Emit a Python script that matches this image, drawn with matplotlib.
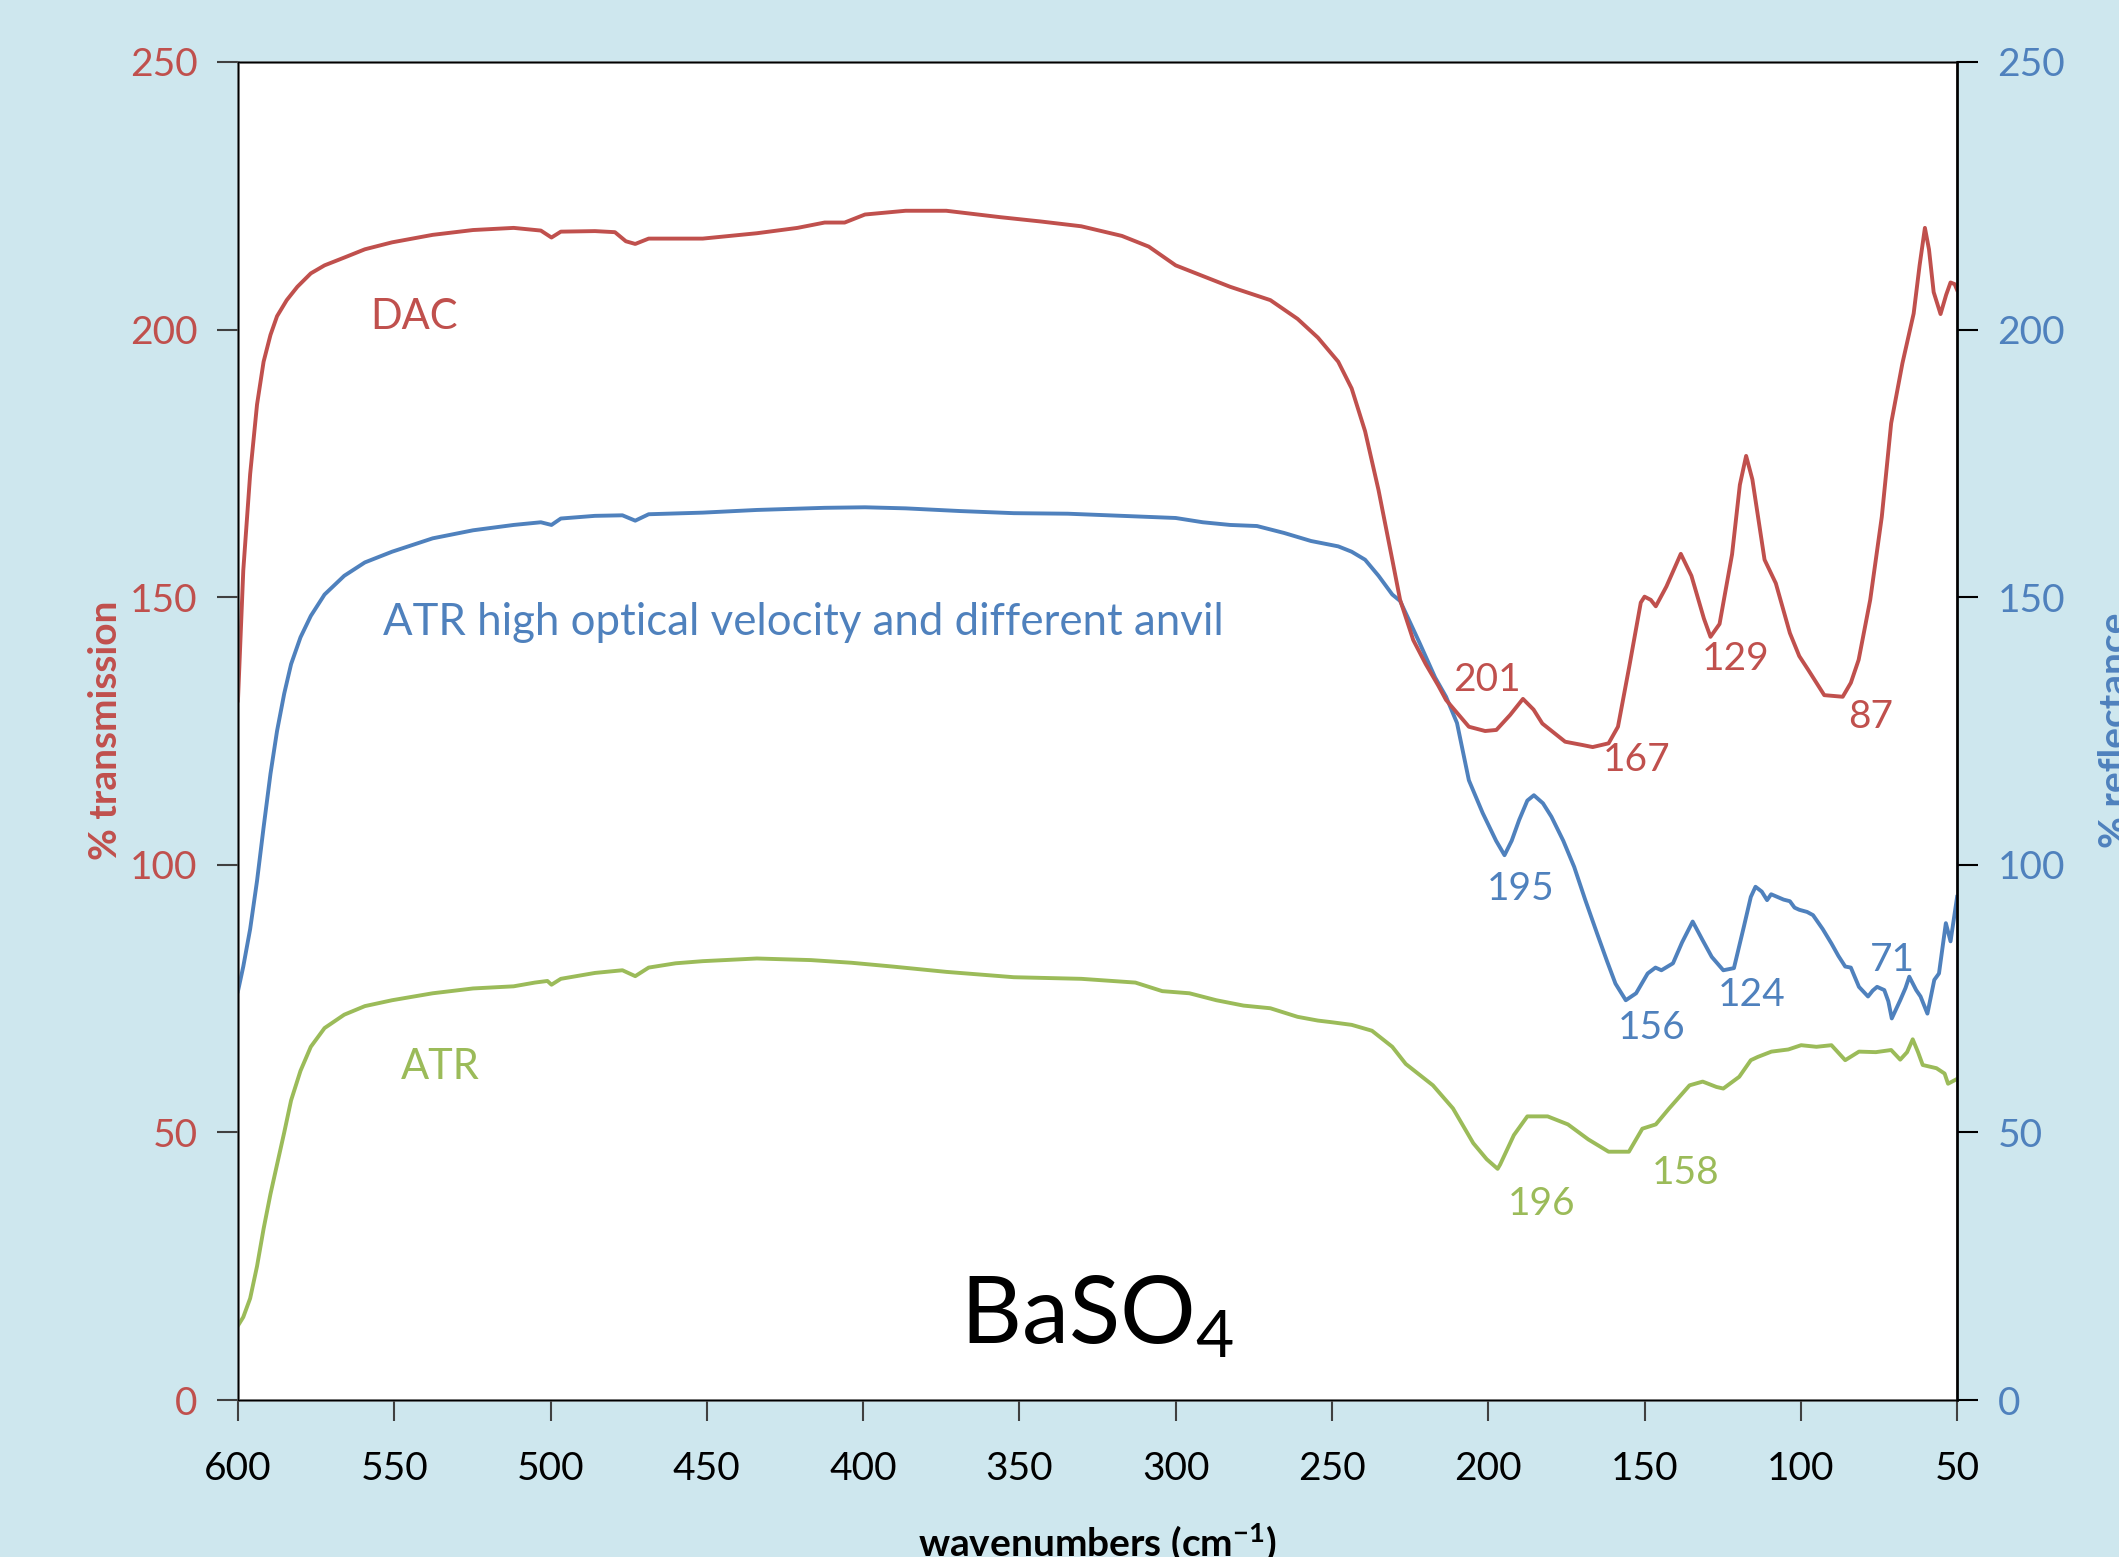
import matplotlib
matplotlib.use("Agg")
import matplotlib.pyplot as plt

plt.rcParams['font.family'] = ['Lato', 'DejaVu Sans']
plt.rcParams['mathtext.fontset'] = 'custom'
plt.rcParams['mathtext.rm'] = 'Lato'
plt.rcParams['mathtext.bf'] = 'Lato:bold'
plt.rcParams['mathtext.default'] = 'regular'

RED = '#C0504D'
BLUE = '#4F81BD'
GREEN = '#9BBB59'
BG = '#CEE7EE'

# DAC (% transmission)
dac_x = [600.0, 598.3, 596.1, 593.9, 591.8, 589.6, 587.5, 584.4, 581.0, 576.7,
         572.3, 565.8, 559.4, 550.7, 537.7, 524.8, 511.8, 503.1, 499.7, 496.7,
         485.8, 479.4, 475.9, 472.9, 468.6, 451.3, 434.0, 421.0, 412.3, 405.9,
         399.4, 386.4, 373.4, 356.1, 343.2, 330.2, 317.2, 308.6, 300.0, 291.3,
         282.6, 269.7, 261.0, 254.5, 248.0, 243.7, 239.4, 235.1, 230.7, 228.2,
         224.0, 220.0, 216.0, 213.5, 206.2, 201.0, 197.4, 193.0, 188.9, 185.5,
         182.7, 175.4, 170.0, 166.6, 161.5, 158.5, 154.9, 151.2, 150.0, 148.0,
         146.4, 143.0, 138.4, 135.0, 131.0, 128.9, 126.0, 122.0, 119.5, 117.5,
         115.5, 111.6, 108.0, 103.5, 100.5, 97.6, 92.5, 86.6, 84.0, 81.5,
         77.8, 74.1, 71.1, 67.5, 63.9, 62.0, 60.3, 59.0, 57.5, 55.3,
         53.5, 52.1, 50.8, 50.0]
dac_y = [130.7, 155.0, 173.0, 186.0, 194.0, 199.0, 202.5, 205.5, 208.0, 210.5,
         212.0, 213.5, 215.0, 216.3, 217.7, 218.6, 219.0, 218.5, 217.2, 218.3,
         218.4, 218.2, 216.5, 216.0, 217.0, 217.0, 218.0, 219.0, 220.0, 220.0,
         221.5, 222.2, 222.2, 221.0, 220.2, 219.3, 217.5, 215.5, 212.0, 210.0,
         208.0, 205.5, 202.0, 198.5, 194.0, 189.0, 181.0, 170.0, 157.0, 149.5,
         142.0, 137.5, 133.5, 130.8, 125.8, 125.0, 125.2, 128.0, 131.0, 129.0,
         126.4, 123.0, 122.4, 122.0, 122.7, 125.8, 137.0, 149.0, 150.1, 149.5,
         148.3, 152.0, 158.1, 154.0, 146.0, 142.6, 145.0, 158.0, 171.0, 176.4,
         172.0, 157.0, 152.6, 143.3, 139.0, 136.4, 131.7, 131.4, 134.0, 138.3,
         149.5, 165.0, 182.5, 193.7, 203.0, 212.0, 219.0, 215.0, 207.0, 202.9,
         206.5, 208.8, 208.5, 207.4]

# ATR high optical velocity and different anvil (% reflectance)
hv_x = [600.0, 598.3, 596.1, 593.9, 591.8, 589.6, 587.5, 585.2, 583.0, 580.0,
        576.7, 572.3, 566.0, 559.4, 550.7, 537.7, 524.8, 511.8, 503.1, 499.7,
        496.7, 485.8, 477.0, 472.9, 468.6, 451.3, 434.0, 412.3, 399.4, 386.4,
        369.1, 351.8, 334.5, 317.2, 300.0, 291.3, 282.6, 274.0, 265.3, 256.7,
        248.0, 243.7, 239.4, 235.1, 230.7, 228.2, 222.0, 217.0, 213.5, 210.0,
        206.2, 201.8, 197.5, 194.8, 192.5, 190.1, 187.5, 185.4, 182.5, 179.8,
        176.0, 172.5, 169.0, 165.2, 162.0, 159.3, 156.0, 152.7, 149.0, 146.5,
        144.6, 140.9, 138.0, 134.6, 131.5, 128.5, 124.8, 121.4, 118.2, 116.0,
        114.5, 112.5, 110.8, 109.5, 107.9, 105.5, 103.5, 102.0, 100.5, 98.0,
        96.1, 93.0, 90.2, 88.0, 85.8, 84.0, 81.4, 78.5, 77.0, 75.6,
        73.3, 72.0, 70.9, 68.2, 66.5, 65.3, 63.1, 61.7, 59.5, 57.3,
        55.8, 53.6, 52.1, 50.0]
hv_y = [76.4, 81.0, 88.0, 97.0, 107.0, 117.0, 125.0, 132.0, 137.5, 142.5,
        146.5, 150.5, 154.0, 156.5, 158.5, 161.0, 162.5, 163.5, 164.0, 163.5,
        164.7, 165.2, 165.3, 164.3, 165.5, 165.8, 166.3, 166.7, 166.8, 166.6,
        166.1, 165.7, 165.6, 165.2, 164.8, 164.0, 163.5, 163.3, 162.0, 160.5,
        159.5, 158.5, 157.0, 154.0, 150.5, 149.3, 141.5, 135.0, 131.4, 126.5,
        115.8, 109.7, 104.5, 101.8, 104.5, 108.4, 112.0, 113.0, 111.5, 109.0,
        104.5, 99.6, 93.5, 87.2, 82.0, 77.8, 74.7, 76.0, 79.7, 80.8,
        80.3, 81.6, 85.5, 89.4, 86.0, 82.8, 80.3, 80.7, 88.5, 94.0,
        95.9, 95.0, 93.4, 94.5, 94.1, 93.5, 93.2, 92.0, 91.6, 91.2,
        90.6, 88.0, 85.3, 83.0, 81.0, 80.8, 77.2, 75.4, 76.5, 77.2,
        76.6, 74.5, 71.3, 74.7, 77.0, 79.1, 76.6, 75.4, 72.2, 78.5,
        79.7, 89.1, 85.7, 94.0]

# ATR
atr_x = [600.0, 598.3, 596.1, 593.9, 591.8, 589.6, 587.5, 585.2, 583.0, 580.0,
         576.7, 572.3, 566.0, 559.4, 550.7, 537.7, 524.8, 511.8, 505.0, 501.0,
         499.7, 496.7, 485.8, 477.0, 472.9, 468.6, 460.0, 451.3, 434.0, 416.7,
         403.7, 390.7, 373.4, 351.8, 330.2, 312.9, 304.3, 295.6, 287.0, 278.3,
         269.7, 261.0, 254.5, 250.2, 243.7, 237.2, 230.7, 226.4, 217.7, 211.3,
         204.8, 200.5, 197.0, 196.2, 191.8, 187.5, 181.0, 174.5, 168.0, 161.5,
         155.0, 150.7, 146.4, 142.1, 135.6, 131.4, 127.0, 124.8, 119.7, 116.0,
         113.8, 109.4, 104.0, 99.9, 95.0, 90.2, 85.8, 81.4, 76.0, 71.1,
         68.2, 66.0, 64.2, 62.5, 61.0, 56.6, 54.0, 52.9, 50.0]
atr_y = [13.9, 15.5, 19.0, 25.0, 32.0, 38.5, 44.0, 50.0, 56.0, 61.5,
         66.0, 69.5, 72.0, 73.6, 74.7, 76.0, 76.9, 77.3, 78.0, 78.3,
         77.6, 78.7, 79.8, 80.3, 79.2, 80.8, 81.6, 82.0, 82.5, 82.2,
         81.7, 81.0, 80.0, 79.0, 78.7, 78.0, 76.4, 76.0, 74.7, 73.7,
         73.2, 71.6, 70.9, 70.6, 70.1, 69.0, 66.0, 62.8, 58.8, 54.5,
         48.0, 45.0, 43.2, 44.0, 49.5, 53.0, 53.0, 51.5, 48.7, 46.4,
         46.4, 50.7, 51.5, 54.5, 58.8, 59.5, 58.5, 58.2, 60.4, 63.5,
         64.1, 65.1, 65.5, 66.3, 66.0, 66.3, 63.5, 65.1, 65.0, 65.4,
         63.6, 65.0, 67.4, 65.0, 62.6, 62.0, 61.0, 59.1, 60.0]

# peak labels: (text, x, y, colour)
peak_labels = [
    ('201', 200.5, 134.5, RED), ('167', 152.5, 119.6, RED),
    ('129', 121.0, 138.5, RED), ('87', 77.7, 127.6, RED),
    ('195', 189.7, 95.4, BLUE), ('156', 147.8, 69.6, BLUE),
    ('124', 115.8, 75.7, BLUE), ('71', 70.8, 82.2, BLUE),
    ('196', 182.8, 36.6, GREEN), ('158', 137.0, 42.4, GREEN),
]
yticks = [0, 50, 100, 150, 200, 250]
xticks = [600, 550, 500, 450, 400, 350, 300, 250, 200, 150, 100, 50]

fig = plt.figure(figsize=(21.19, 15.57), dpi=100, facecolor=BG)
ax = fig.add_axes([0.1123, 0.1008, 0.8113, 0.8594])
ax.set_facecolor('white')

lw = 2.8
ax.plot(atr_x, atr_y, color=GREEN, lw=lw, solid_joinstyle='round')
ax.plot(hv_x, hv_y, color=BLUE, lw=lw, solid_joinstyle='round')
ax.plot(dac_x, dac_y, color=RED, lw=lw, solid_joinstyle='round')

ax.set_xlim(600, 50)
ax.set_ylim(0, 250)
ax.set_xticks(xticks)
ax.set_yticks(yticks)
ax.tick_params(axis='x', direction='out', length=15, width=1.5, pad=22,
               labelsize=28, colors='#404040', labelcolor='black')
ax.tick_params(axis='y', direction='out', length=15, width=1.5, pad=14,
               labelsize=28, colors='#404040', labelcolor=RED)
for sp in ax.spines.values():
    sp.set_color('#505050')
    sp.set_linewidth(1.8)

ax2 = ax.twinx()
ax2.set_ylim(0, 250)
ax2.set_yticks(yticks)
ax2.tick_params(axis='y', direction='out', length=15, width=1.5, pad=14,
                labelsize=28, colors='black', labelcolor=BLUE)
ax2.spines['right'].set_color('black')
ax2.spines['right'].set_linewidth(1.8)

ax.text(543.8, 202.3, 'DAC', color=RED, fontsize=30, ha='center', va='center')
ax.text(553.5, 145.3, 'ATR high optical velocity and different anvil',
        color=BLUE, fontsize=31.5, ha='left', va='center')
ax.text(535.2, 62.3, 'ATR', color=GREEN, fontsize=30, ha='center', va='center')
for txt, x, y, c in peak_labels:
    ax.text(x, y, txt, color=c, fontsize=28, ha='center', va='center')

ax.text(325, 15.5, 'BaSO$_4$', color='black', fontsize=68, ha='center', va='center')

fig.text(0.0496, 0.531, '% transmission', color=RED, fontsize=28, fontweight='bold',
         rotation=90, ha='center', va='center')
fig.text(0.990, 0.531, '% reflectance', color=BLUE, fontsize=28, fontweight='bold',
         rotation=90, ha='left', va='center')
fig.text(0.518, 0.009, r'wavenumbers (cm$^{\mathbf{-1}}$)', color='black', fontsize=28,
         fontweight='bold', ha='center', va='center')

fig.savefig('out.png', dpi=100, facecolor=BG)
